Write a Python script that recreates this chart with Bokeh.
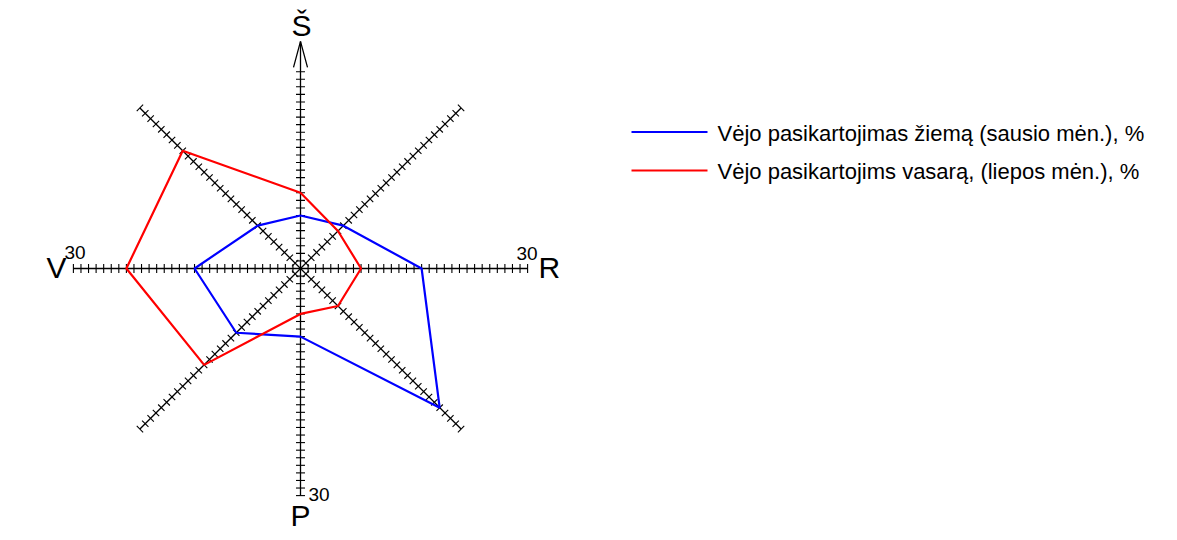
import numpy as np
from bokeh.plotting import figure
from bokeh.models import Range1d
from bokeh.core.properties import value
from bokeh.embed import file_html
from bokeh.resources import INLINE

# ---- data ----
directions = ["Š", "ŠR", "R", "PR", "P", "PV", "V", "ŠV"]
winter = [7, 8, 16, 26, 9, 12, 14, 8]     # Vėjo pasikartojimas žiemą (sausio mėn.), %
summer = [10, 7, 8, 7, 6, 18, 23, 22]     # Vėjo pasikartojimas vasarą (liepos mėn.), %
series_labels = ["Vėjo pasikartojimas žiemą (sausio mėn.), %",
                 "Vėjo pasikartojims vasarą, (liepos mėn.), %"]
series_colors = ["#0000ff", "#ff0000"]
axis_max = 30
north_tick_max = 26
axis_end_label = "30"

# ---- layout ----
W, H = 1160, 532
S = 7.57                 # px per unit
CX, CY = 300, 268        # canvas position of centre
FONT = "Liberation Sans"

def px(pxx, pyy):
    """picture pixel -> data coords"""
    return ((pxx - CX) / S, (CY - pyy) / S)

p = figure(width=W, height=H, output_backend="svg", toolbar_location=None,
           x_range=Range1d(-CX / S, (W - CX) / S),
           y_range=Range1d(-(H - CY) / S, CY / S),
           x_axis_location=None, y_axis_location=None, min_border=0)
p.grid.visible = False
p.outline_line_color = None

angles = np.deg2rad(np.arange(8) * 45.0)  # clockwise from north

# axes: four full lines through centre
for k in range(4):
    a = angles[k]
    dx, dy = np.sin(a), np.cos(a)
    p.line([-axis_max * dx, axis_max * dx], [-axis_max * dy, axis_max * dy],
           line_color="black", line_width=1.3)

# ticks
tl = 4.5 / S
x0s, y0s, x1s, y1s = [], [], [], []
for k, a in enumerate(angles):
    dx, dy = np.sin(a), np.cos(a)
    nx, ny = -dy, dx
    tmax = north_tick_max if k == 0 else axis_max
    for t in range(1, tmax + 1):
        cx, cy = t * dx, t * dy
        x0s.append(cx - tl * nx); y0s.append(cy - tl * ny)
        x1s.append(cx + tl * nx); y1s.append(cy + tl * ny)
p.segment(x0s, y0s, x1s, y1s, line_color="black", line_width=1.1)

# north arrow
ah, aw = 26 / S, 7 / S
p.line([-aw, 0, aw], [axis_max - ah, axis_max, axis_max - ah],
       line_color="black", line_width=1.3)

# series polygons
for vals, col in zip([winter, summer], series_colors):
    r = np.array(vals + vals[:1], dtype=float)
    a = np.concatenate([angles, angles[:1]])
    p.line(r * np.sin(a), r * np.cos(a), line_color=col, line_width=2.2)

# direction labels
def txt(x, y, s, size, align="left"):
    p.text([x], [y], text=[s], text_font=value(FONT), text_font_size=size,
           text_align=align, text_baseline="alphabetic", text_color="black")

BIG, SMALL = "30px", "19px"
x, y = px(301, 25); txt(x, y, directions[0], BIG, "center")
x, y = px(538, 267); txt(x, y, directions[2], BIG)
x, y = px(66, 267); txt(x, y, directions[6], BIG, "right")
x, y = px(300, 515); txt(x, y, directions[4], BIG, "center")
x, y = px(516, 253); txt(x, y, axis_end_label, SMALL)
x, y = px(64, 252); txt(x, y, axis_end_label, SMALL)
x, y = px(308, 494); txt(x, y, axis_end_label, SMALL)

# legend
for i, (lab, col) in enumerate(zip(series_labels, series_colors)):
    ly = 131.5 + i * 38.5
    xa, ya = px(631, ly)
    xb, _ = px(707, ly)
    p.line([xa, xb], [ya, ya], line_color=col, line_width=2)
    xt, yt = px(717, ly + 1)
    p.text([xt], [yt], text=[lab], text_font=value(FONT), text_font_size="22px",
           text_align="left", text_baseline="middle", text_color="black")

open("out.html", "w").write(file_html(p, INLINE))
